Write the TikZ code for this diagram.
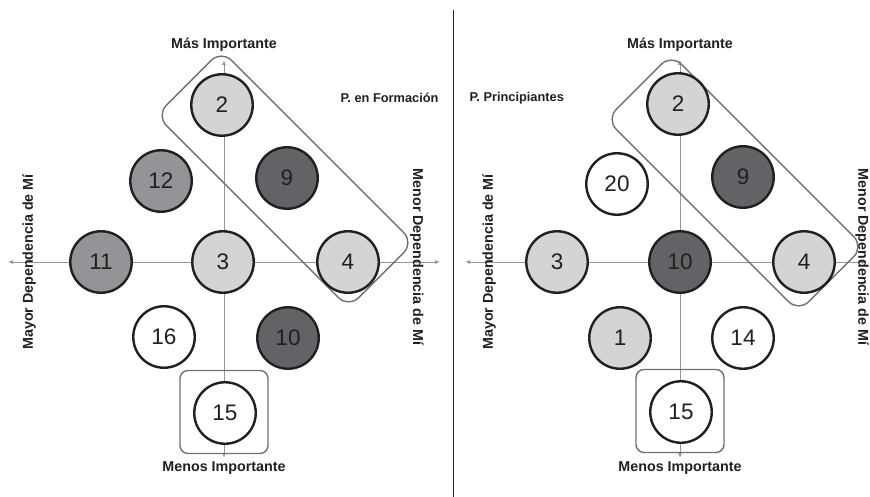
\documentclass[tikz,border=0pt]{standalone}
\usepackage{fontspec}
\setmainfont{Liberation Sans}
\usetikzlibrary{arrows.meta}

\definecolor{claro}{RGB}{211,212,214}
\definecolor{medio}{RGB}{146,148,151}
\definecolor{oscuro}{RGB}{98,99,102}
\definecolor{tinta}{RGB}{35,31,32}
\definecolor{ejegris}{RGB}{150,150,150}
\definecolor{marco}{RGB}{112,112,112}

\tikzset{
  circulo/.style={circle, draw=tinta, line width=2.4pt, minimum size=61.5pt, inner sep=0pt,
    text=tinta, font=\fontsize{22.5}{22.5}\selectfont},
  eje/.style={draw=ejegris, line width=0.9pt, {Latex[length=5pt,width=4pt]}-{Latex[length=5pt,width=4pt]}},
  grupo/.style={draw=marco, line width=1.4pt, rounded corners=14pt, inner sep=0pt},
  cuadro/.style={draw=marco, line width=1.4pt, rounded corners=8pt, inner sep=0pt,
    minimum width=88pt, minimum height=83pt},
  titulo/.style={font=\bfseries\fontsize{14.3}{14.3}\selectfont, text=tinta},
  nivel/.style={font=\bfseries\fontsize{12.8}{12.8}\selectfont, text=tinta, anchor=west}
}

\begin{document}
\begin{tikzpicture}[x=1pt,y=-1pt]
\useasboundingbox (0,0) rectangle (870,497);

\coordinate (izqA) at (8,262);
\coordinate (derA) at (440,262);
\coordinate (arrA) at (224,60);
\coordinate (abaA) at (224,458);
\coordinate (izqB) at (465,262);
\coordinate (derB) at (867,262);
\coordinate (arrB) at (680,60);
\coordinate (abaB) at (680,458);
\coordinate (divS) at (453,10);
\coordinate (divI) at (453,497);

\draw[tinta, line width=0.8pt] (divS) -- (divI);
\draw[eje] (izqA) -- (derA);
\draw[eje] (arrA) -- (abaA);
\draw[eje] (izqB) -- (derB);
\draw[eje] (arrB) -- (abaB);

\node[grupo, rotate=-45, minimum width=272pt, minimum height=92pt] (grupoA) at (285,179) {};
\node[grupo, rotate=-45, minimum width=272pt, minimum height=92pt] (grupoB) at (735,183) {};
\node[cuadro] (cuadroA) at (224,412) {};
\node[cuadro] (cuadroB) at (680,411) {};

\node[circulo, fill=claro] (a2) at (222,105) {2};
\node[circulo, fill=medio] (a12) at (161,181) {12};
\node[circulo, fill=oscuro] (a9) at (287,178) {9};
\node[circulo, fill=medio] (a11) at (101,262) {11};
\node[circulo, fill=claro] (a3) at (223,262) {3};
\node[circulo, fill=claro] (a4) at (348,262) {4};
\node[circulo, fill=white] (a16) at (164,337) {16};
\node[circulo, fill=oscuro] (a10) at (288,338) {10};
\node[circulo, fill=white] (a15) at (225,413) {15};

\node[circulo, fill=claro] (b2) at (678,104) {2};
\node[circulo, fill=white] (b20) at (617,184) {20};
\node[circulo, fill=oscuro] (b9) at (743,177) {9};
\node[circulo, fill=claro] (b3) at (557,262) {3};
\node[circulo, fill=oscuro] (b10) at (680,262) {10};
\node[circulo, fill=claro] (b4) at (804,262) {4};
\node[circulo, fill=claro] (b1) at (620,338) {1};
\node[circulo, fill=white] (b14) at (743,338) {14};
\node[circulo, fill=white] (b15) at (681,412) {15};

\node[titulo] (masA) at (224,45) {Más Importante};
\node[titulo] (menosA) at (224,468) {Menos Importante};
\node[titulo, rotate=90] (mayorA) at (29,262) {Mayor Dependencia de Mí};
\node[titulo, rotate=-90] (menorA) at (417,257) {Menor Dependencia de Mí};
\node[nivel] (formA) at (337,98) {P. en Formación};

\node[titulo] (masB) at (680,45) {Más Importante};
\node[titulo] (menosB) at (680,468) {Menos Importante};
\node[titulo, rotate=90] (mayorB) at (489,262) {Mayor Dependencia de Mí};
\node[titulo, rotate=-90] (menorB) at (862,257) {Menor Dependencia de Mí};
\node[nivel] (formB) at (466,98) {P. Principiantes};
\end{tikzpicture}
\end{document}
